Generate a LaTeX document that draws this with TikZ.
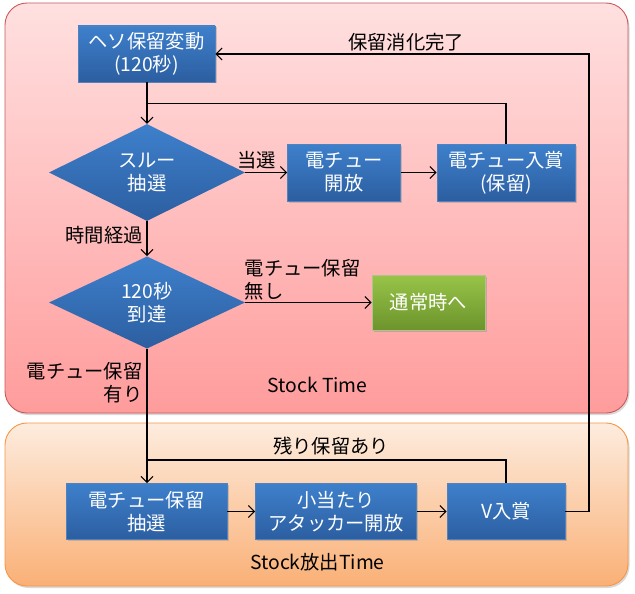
\documentclass[tikz,border=0pt]{standalone}
\usepackage{fontspec}
\setmainfont{Noto Sans CJK JP}
\usetikzlibrary{shapes.geometric,arrows.meta,shadows}
\definecolor{bxtop}{RGB}{62,128,204}
\definecolor{bxbot}{RGB}{44,94,160}
\definecolor{bxline}{RGB}{80,130,190}
\definecolor{grtop}{RGB}{152,196,72}
\definecolor{grbot}{RGB}{108,148,44}
\definecolor{redtop}{RGB}{255,224,224}
\definecolor{redbot}{RGB}{255,156,156}
\definecolor{redline}{RGB}{200,90,88}
\definecolor{ortop}{RGB}{253,236,222}
\definecolor{orbot}{RGB}{250,176,118}
\definecolor{orline}{RGB}{247,150,70}
\tikzset{
  fnt/.style={font=\fontsize{19.3}{23}\selectfont},
  txt/.style={fnt, inner sep=0pt, align=center},
  bluebox/.style={rectangle, top color=bxtop, bottom color=bxbot, draw=bxline, line width=0.6pt,
     text=white, fnt, align=center, inner sep=0pt,
     drop shadow={shadow xshift=1.5pt, shadow yshift=-1.5pt, opacity=0.35}},
  greenbox/.style={bluebox, top color=grtop, bottom color=grbot, draw=grtop!80!black!60},
  decision/.style={diamond, top color=bxtop, bottom color=bxbot, draw=none,
     text=white, fnt, align=center, inner sep=0pt,
     minimum width=196pt, minimum height=89pt},
  arr/.style={-{Straight Barb[length=6pt,width=12pt]}, line width=1.1pt},
  ln/.style={line width=1.1pt},
  panel/.style={rounded corners=22pt, line width=0.9pt,
     drop shadow={shadow xshift=1.5pt, shadow yshift=-2pt, opacity=0.3}}
}
\begin{document}
\begin{tikzpicture}[x=1pt,y=-1pt]
\useasboundingbox (0,0) rectangle (635,594);
% panels
\path[panel, top color=redtop, bottom color=redbot, draw=redline] (5,3) rectangle (628,413);
\path[panel, top color=ortop, bottom color=orbot, draw=orline] (5,423) rectangle (628,586);

% nodes
\node[bluebox, minimum width=137pt, minimum height=56pt] (b1) at (146.5,54) {ヘソ保留変動\\(120秒)};
\node[decision] (d1) at (147,172.5) {スルー\\抽選};
\node[bluebox, minimum width=113pt, minimum height=57pt] (open) at (344,172.5) {電チュー\\開放};
\node[bluebox, minimum width=138pt, minimum height=57pt] (rin) at (506,172.5) {電チュー入賞\\(保留)};
\node[decision, minimum height=88pt] (d2) at (147,302.5) {120秒\\到達};
\node[greenbox, minimum width=113pt, minimum height=55pt] (green) at (428.5,302.5) {通常時へ};
\node[bluebox, minimum width=161pt, minimum height=56pt] (hl) at (146.5,511.5) {電チュー保留\\抽選};
\node[bluebox, minimum width=161pt, minimum height=56pt] (atk) at (336,511.5) {小当たり\\アタッカー開放};
\node[bluebox, minimum width=118pt, minimum height=56pt] (v) at (506,511.5) {V入賞};

% labels
\node[txt] (l1) at (406,41.7) {保留消化完了};
\node[txt] (l2) at (256.5,160) {当選};
\node[txt, anchor=east] (l3) at (143,235) {時間経過};
\node[txt, anchor=west, align=left] (l4) at (244.5,279.5) {電チュー保留\\無し};
\node[txt, anchor=east, align=right] (l5) at (142.7,382.5) {電チュー保留\\有り};
\node[txt] (l6) at (317.5,385) {Stock Time};
\node[txt] (l7) at (331,446) {残り保留あり};
\node[txt] (l8) at (317.5,561.7) {Stock放出Time};

% coordinates
\coordinate (j1) at (147,103.3);
\coordinate (j2) at (147,460);
\coordinate (c1) at (589,54);

% connectors
\draw[arr] (b1.south -| d1.north) -- (d1.north);
\draw[ln] (rin.north) |- (j1);
\draw[arr] (d1.east) -- (open.west);
\draw[arr] (open.east) -- (rin.west);
\draw[arr] (d1.south) -- (d2.north);
\draw[arr] (d2.east) -- (green.west);
\draw[arr] (d2.south) -- (hl.north -| d2.south);
\draw[ln] (v.north) |- (j2);
\draw[arr] (hl.east) -- (atk.west);
\draw[arr] (atk.east) -- (v.west);
\draw[arr] (v.east) -| (c1) -- (b1.east);
\end{tikzpicture}
\end{document}
